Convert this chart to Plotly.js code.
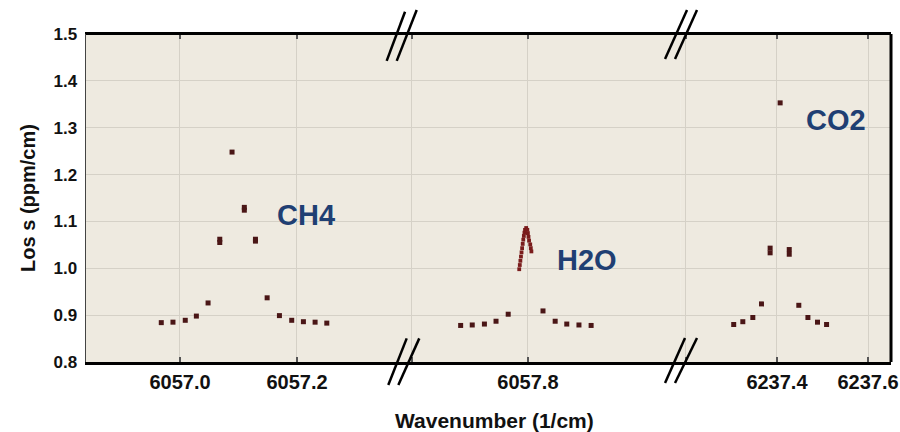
<!DOCTYPE html>
<html>
<head>
<meta charset="utf-8">
<script src="https://cdn.plot.ly/plotly-3.0.1.min.js"></script>
<style>html,body{margin:0;padding:0;background:#fff;}#chart{width:900px;height:432px;}</style>
</head>
<body>
<div id="chart"></div>
<script>
// ---- data ----
const ch4X = [6056.968, 6056.988, 6057.009, 6057.028, 6057.048, 6057.068, 6057.068, 6057.089, 6057.110, 6057.110, 6057.129, 6057.129, 6057.149, 6057.170, 6057.191, 6057.211, 6057.231, 6057.251];
const ch4Y = [0.884, 0.885, 0.889, 0.898, 0.926, 1.062, 1.055, 1.248, 1.130, 1.124, 1.062, 1.058, 0.937, 0.899, 0.889, 0.886, 0.885, 0.883];

// H2O: sparse wing points and the dense scan over the peak
const h2oWingX = [6057.684, 6057.704, 6057.725, 6057.745, 6057.766, 6057.826, 6057.847, 6057.867, 6057.888, 6057.909];
const h2oWingY = [0.878, 0.879, 0.881, 0.887, 0.902, 0.909, 0.887, 0.881, 0.879, 0.878];
const h2oPeakX = [6057.785, 6057.786, 6057.787, 6057.788, 6057.789, 6057.790, 6057.791, 6057.792, 6057.793, 6057.794, 6057.795, 6057.797,
  6057.799, 6057.800, 6057.801, 6057.802, 6057.804, 6057.805, 6057.806];
const h2oPeakY = [0.998, 1.007, 1.016, 1.025, 1.034, 1.043, 1.052, 1.061, 1.069, 1.076, 1.082, 1.086,
  1.082, 1.075, 1.067, 1.059, 1.051, 1.043, 1.036];

const co2X = [6237.305, 6237.325, 6237.347, 6237.366, 6237.385, 6237.385, 6237.407, 6237.427, 6237.427, 6237.448, 6237.468, 6237.489, 6237.509];
const co2Y = [0.880, 0.886, 0.895, 0.924, 1.043, 1.033, 1.353, 1.040, 1.030, 0.921, 0.895, 0.885, 0.880];

const seg1Ticks = [6057.0, 6057.2];
const seg1Labels = ['6057.0', '6057.2'];
const seg2Ticks = [6057.6, 6057.8];
const seg2Labels = ['', '6057.8'];
const seg3Ticks = [6237.2, 6237.4, 6237.6];
const seg3Labels = ['', '6237.4', '6237.6'];
const yTicks = [0.8, 0.9, 1.0, 1.1, 1.2, 1.3, 1.4, 1.5];

const gasLabels = ['CH4', 'H2O', 'CO2'];
const gasLabelX = [6057.215, 6057.902, 6237.53];
const gasLabelY = [1.114, 1.018, 1.316];

// ---- styling ----
const markerStyle = {symbol: 'square', size: 5, color: '#4a1616', line: {width: 0}};
const FONT = 'Liberation Sans, Arial, sans-serif';
const tickFont = {family: FONT, size: 20, color: '#111', weight: 'bold'};

const traces = [
  {x: ch4X, y: ch4Y, xaxis: 'x', yaxis: 'y', type: 'scatter', mode: 'markers', marker: markerStyle, name: 'CH4', showlegend: false},
  {x: h2oWingX, y: h2oWingY, xaxis: 'x2', yaxis: 'y', type: 'scatter', mode: 'markers', marker: markerStyle, name: 'H2O', showlegend: false},
  {x: h2oPeakX, y: h2oPeakY, xaxis: 'x2', yaxis: 'y', type: 'scatter', mode: 'markers', marker: Object.assign({}, markerStyle, {color: '#7a1c1c', size: 3.8}), name: 'H2O peak', showlegend: false},
  {x: co2X, y: co2Y, xaxis: 'x3', yaxis: 'y', type: 'scatter', mode: 'markers', marker: markerStyle, name: 'CO2', showlegend: false}
];

function xAxis(domain, range, ticks, labels) {
  return {
    domain: domain, range: range, anchor: 'y',
    tickmode: 'array', tickvals: ticks, ticktext: labels,
    showgrid: true, gridcolor: '#d5d1c7', gridwidth: 1,
    showline: true, linecolor: '#000', linewidth: 2.5, mirror: 'ticks',
    ticks: 'inside', ticklen: 5, tickcolor: '#555', tickwidth: 1.2,
    tickfont: tickFont, zeroline: false, fixedrange: true
  };
}

const bx = [0.3925, 0.739];
const shapes = [
  // top border
  {type: 'line', xref: 'paper', yref: 'paper', x0: 0, x1: 1, y0: 1, y1: 1, line: {color: '#000', width: 2}},
  // right border
  {type: 'line', xref: 'paper', yref: 'paper', x0: 1, x1: 1, y0: 0, y1: 1, line: {color: '#000', width: 3}},
  // break marks, first break
  {type: 'line', xref: 'paper', yref: 'paper', x0: 0.3735, y0: 0.918, x1: 0.3963, y1: 1.068, line: {color: '#000', width: 2.5}},
  {type: 'line', xref: 'paper', yref: 'paper', x0: 0.386, y0: 0.918, x1: 0.4108, y1: 1.073, line: {color: '#000', width: 2.5}},
  {type: 'line', xref: 'paper', yref: 'paper', x0: 0.3755, y0: -0.070, x1: 0.3984, y1: 0.072, line: {color: '#000', width: 2.5}},
  {type: 'line', xref: 'paper', yref: 'paper', x0: 0.388, y0: -0.070, x1: 0.414, y1: 0.072, line: {color: '#000', width: 2.5}},
  // second break
  {type: 'line', xref: 'paper', yref: 'paper', x0: 0.7193, y0: 0.924, x1: 0.7466, y1: 1.073, line: {color: '#000', width: 2.5}},
  {type: 'line', xref: 'paper', yref: 'paper', x0: 0.7317, y0: 0.924, x1: 0.759, y1: 1.073, line: {color: '#000', width: 2.5}},
  {type: 'line', xref: 'paper', yref: 'paper', x0: 0.7193, y0: -0.064, x1: 0.7441, y1: 0.073, line: {color: '#000', width: 2.5}},
  {type: 'line', xref: 'paper', yref: 'paper', x0: 0.7317, y0: -0.064, x1: 0.759, y1: 0.073, line: {color: '#000', width: 2.5}}
];

const annotations = gasLabels.map((t, i) => ({
  text: t, x: gasLabelX[i], y: gasLabelY[i], xref: ['x', 'x2', 'x3'][i], yref: 'y',
  showarrow: false, xanchor: 'center', yanchor: 'middle',
  font: {family: FONT, size: 29, color: '#1f3f73', weight: 'bold'}
}));
annotations.push({
  text: 'Wavenumber (1/cm)', xref: 'paper', yref: 'paper', x: 0.507, y: -0.177,
  showarrow: false, xanchor: 'center', yanchor: 'middle',
  font: {family: FONT, size: 21, color: '#111', weight: 'bold'}
});

const layout = {
  width: 900, height: 432,
  margin: {l: 86, r: 9, t: 34, b: 70},
  paper_bgcolor: '#ffffff', plot_bgcolor: '#eeeae0',
  showlegend: false,
  xaxis: xAxis([0, bx[0]], [6056.8393, 6057.3795], seg1Ticks, seg1Labels),
  xaxis2: xAxis([bx[0], bx[1]], [6057.5828, 6058.0638], seg2Ticks, seg2Labels),
  xaxis3: xAxis([bx[1], 1], [6237.189, 6237.6505], seg3Ticks, seg3Labels),
  yaxis: {
    range: [0.8, 1.5], tickmode: 'array', tickvals: yTicks, ticktext: yTicks.map(v => v.toFixed(1)),
    showgrid: true, gridcolor: '#d5d1c7', gridwidth: 1,
    showline: true, linecolor: '#444', linewidth: 1.5,
    ticks: '', ticklabelstandoff: 4, tickfont: {family: FONT, size: 17, color: '#111', weight: 'bold'},
    zeroline: false, fixedrange: true,
    title: {text: 'Los s (ppm/cm)', standoff: 12, font: {family: FONT, size: 20, color: '#111', weight: 'bold'}}
  },
  shapes: shapes,
  annotations: annotations
};

Plotly.newPlot('chart', traces, layout, {displayModeBar: false, staticPlot: true});
</script>
</body>
</html>
